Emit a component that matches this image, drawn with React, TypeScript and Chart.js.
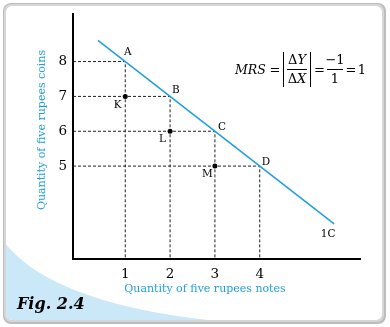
import React, { useEffect, useRef } from 'react';
import { Chart, registerables } from 'chart.js';

Chart.register(...registerables);

// ---- data ----
const notes = [1, 2, 3, 4];
const coins = [8, 7, 6, 5];
const pointNames = ['A', 'B', 'C', 'D'];
const midNotes = [1, 2, 3];
const midCoins = [7, 6, 5];
const midNames = ['K', 'L', 'M'];
const curveX = [0.39, 5.66];
const curveY = [8.61, 3.34];
const curveName = '1C';
const xTicks = [1, 2, 3, 4];
const yTicks = [5, 6, 7, 8];
const X_MIN = -0.166;
const X_MAX = 6.237;
const Y_MIN = 2.334;
const Y_MAX = 9.362;
const xTitle = 'Quantity of five rupees notes';
const yTitle = 'Quantity of five rupees coins';
const figLabel = 'Fig. 2.4';

const BLUE = '#1E9FDF';
const SERIF = "'DejaVu Serif', 'Liberation Serif', serif";

const decorPlugin = {
  id: 'decor',
  beforeDraw(chart: any) {
    const ctx: CanvasRenderingContext2D = chart.ctx;
    const W = chart.width;
    const H = chart.height;
    ctx.save();
    ctx.fillStyle = '#ffffff';
    ctx.fillRect(0, 0, W, H);
    ctx.beginPath();
    (ctx as any).roundRect(3, 3, 383, 321, 8);
    ctx.fillStyle = '#bdbdbd';
    ctx.fill();
    ctx.beginPath();
    (ctx as any).roundRect(4, 4, 380, 318, 7);
    ctx.fillStyle = '#d6d6d6';
    ctx.fill();
    const card = new Path2D();
    (card as any).roundRect(6, 6, 376, 314, 6);
    ctx.fillStyle = '#ffffff';
    ctx.fill(card);
    ctx.save();
    ctx.clip(card);
    ctx.beginPath();
    ctx.moveTo(0, 236);
    ctx.bezierCurveTo(30, 282, 110, 314, 252, 324);
    ctx.lineTo(0, 330);
    ctx.closePath();
    ctx.fillStyle = '#CBE8F8';
    ctx.fill();
    ctx.restore();
    ctx.restore();
  },
  afterDraw(chart: any) {
    const ctx: CanvasRenderingContext2D = chart.ctx;
    const xs = chart.scales.x;
    const ys = chart.scales.y;
    ctx.save();
    ctx.fillStyle = '#000';
    ctx.textAlign = 'center';
    ctx.textBaseline = 'middle';
    ctx.font = `10.5px ${SERIF}`;
    const mainOff = [[2.5, -9.5], [5.7, -5.7], [7, -3.6], [6.3, -3.7]];
    notes.forEach((n, i) => {
      const px = xs.getPixelForValue(n);
      const py = ys.getPixelForValue(coins[i]);
      ctx.fillText(pointNames[i], px + mainOff[i][0], py + mainOff[i][1]);
    });
    midNotes.forEach((n, i) => {
      const px = xs.getPixelForValue(n);
      const py = ys.getPixelForValue(midCoins[i]);
      ctx.fillText(midNames[i], px - 7.6, py + 8.5);
    });
    const ex = xs.getPixelForValue(curveX[curveX.length - 1]);
    const ey = ys.getPixelForValue(curveY[curveY.length - 1]);
    ctx.fillText(curveName, ex - 6, ey + 10);

    // axis titles
    ctx.fillStyle = BLUE;
    ctx.font = `11px ${SERIF}`;
    ctx.fillText(xTitle, 205, 289);
    ctx.save();
    ctx.translate(42, 130);
    ctx.rotate(-Math.PI / 2);
    ctx.fillText(yTitle, 0, 0);
    ctx.restore();

    // formula
    ctx.fillStyle = '#000';
    ctx.strokeStyle = '#000';
    ctx.lineWidth = 1;
    ctx.textBaseline = 'alphabetic';
    ctx.textAlign = 'left';
    ctx.font = `italic 12.5px ${SERIF}`;
    ctx.fillText('MRS', 235, 74);
    ctx.font = `13px ${SERIF}`;
    ctx.textAlign = 'center';
    ctx.fillText('=', 275, 74);
    ctx.beginPath();
    ctx.moveTo(283.5, 52);
    ctx.lineTo(283.5, 87);
    ctx.moveTo(310.5, 52);
    ctx.lineTo(310.5, 87);
    ctx.moveTo(287, 69.5);
    ctx.lineTo(307, 69.5);
    ctx.moveTo(327, 69.5);
    ctx.lineTo(343, 69.5);
    ctx.stroke();
    const drawDelta = (letter: string, cx: number, by: number) => {
      ctx.font = `13px ${SERIF}`;
      const dw = ctx.measureText('\u0394').width;
      ctx.font = `italic 13px ${SERIF}`;
      const lw = ctx.measureText(letter).width;
      const start = cx - (dw + lw) / 2;
      ctx.textAlign = 'left';
      ctx.font = `13px ${SERIF}`;
      ctx.fillText('\u0394', start, by);
      ctx.font = `italic 13px ${SERIF}`;
      ctx.fillText(letter, start + dw, by);
    };
    drawDelta('Y', 297, 64);
    drawDelta('X', 297, 83);
    ctx.textAlign = 'center';
    ctx.font = `13px ${SERIF}`;
    ctx.fillText('=', 319.5, 74);
    ctx.fillText('\u22121', 335, 64);
    ctx.fillText('1', 335, 83);
    ctx.fillText('=', 351, 74);
    ctx.fillText('1', 362, 74);

    // figure label
    ctx.textAlign = 'left';
    ctx.textBaseline = 'middle';
    ctx.font = `bold italic 16px ${SERIF}`;
    ctx.fillText(figLabel, 17, 305);
    ctx.restore();
  },
};

export default function App() {
  const ref = useRef<HTMLCanvasElement>(null);
  useEffect(() => {
    if (!ref.current) return;
    const guides = notes.map((n, i) => ({
      type: 'line' as const,
      data: [
        { x: X_MIN, y: coins[i] },
        { x: n, y: coins[i] },
        { x: n, y: Y_MIN },
      ],
      borderColor: '#222',
      borderWidth: 1,
      borderDash: [3, 2],
      pointRadius: 0,
      showLine: true,
      fill: false,
      order: 3,
    }));
    const chart = new Chart(ref.current, {
      type: 'scatter',
      data: {
        datasets: [
          ...guides,
          {
            type: 'line' as const,
            data: curveX.map((x, i) => ({ x, y: curveY[i] })),
            borderColor: BLUE,
            borderWidth: 1.5,
            pointRadius: 0,
            showLine: true,
            fill: false,
            order: 1,
          },
          {
            data: midNotes.map((x, i) => ({ x, y: midCoins[i] })),
            backgroundColor: '#000',
            borderColor: '#000',
            pointRadius: 2.5,
            borderWidth: 0,
            order: 0,
          },
        ] as any,
      },
      options: {
        responsive: false,
        maintainAspectRatio: false,
        devicePixelRatio: 1,
        animation: false,
        layout: { padding: { left: 0, right: 30, top: 10, bottom: 38 } },
        plugins: { legend: { display: false }, tooltip: { enabled: false } },
        scales: {
          x: {
            type: 'linear',
            min: X_MIN,
            max: X_MAX,
            afterFit: (s: any) => { s.height = 30; },
            afterBuildTicks: (s: any) => { s.ticks = xTicks.map((v) => ({ value: v })); },
            grid: { display: false, drawTicks: false },
            border: { display: true, color: '#000', width: 2 },
            ticks: { color: '#000', font: { family: SERIF, size: 13.5 }, padding: 7, maxRotation: 0, autoSkip: false },
          },
          y: {
            type: 'linear',
            min: Y_MIN,
            max: Y_MAX,
            afterFit: (s: any) => { s.width = 73; },
            afterBuildTicks: (s: any) => { s.ticks = yTicks.map((v) => ({ value: v })); },
            grid: { display: false, drawTicks: false },
            border: { display: true, color: '#000', width: 2 },
            ticks: { color: '#000', font: { family: SERIF, size: 13.5 }, padding: 6, autoSkip: false },
          },
        },
      } as any,
      plugins: [decorPlugin],
    });
    return () => chart.destroy();
  }, []);
  return (
    <div style={{ position: 'fixed', left: 0, top: 0, width: 390, height: 327 }}>
      <canvas ref={ref} width={390} height={327} style={{ display: 'block' }} />
    </div>
  );
}
